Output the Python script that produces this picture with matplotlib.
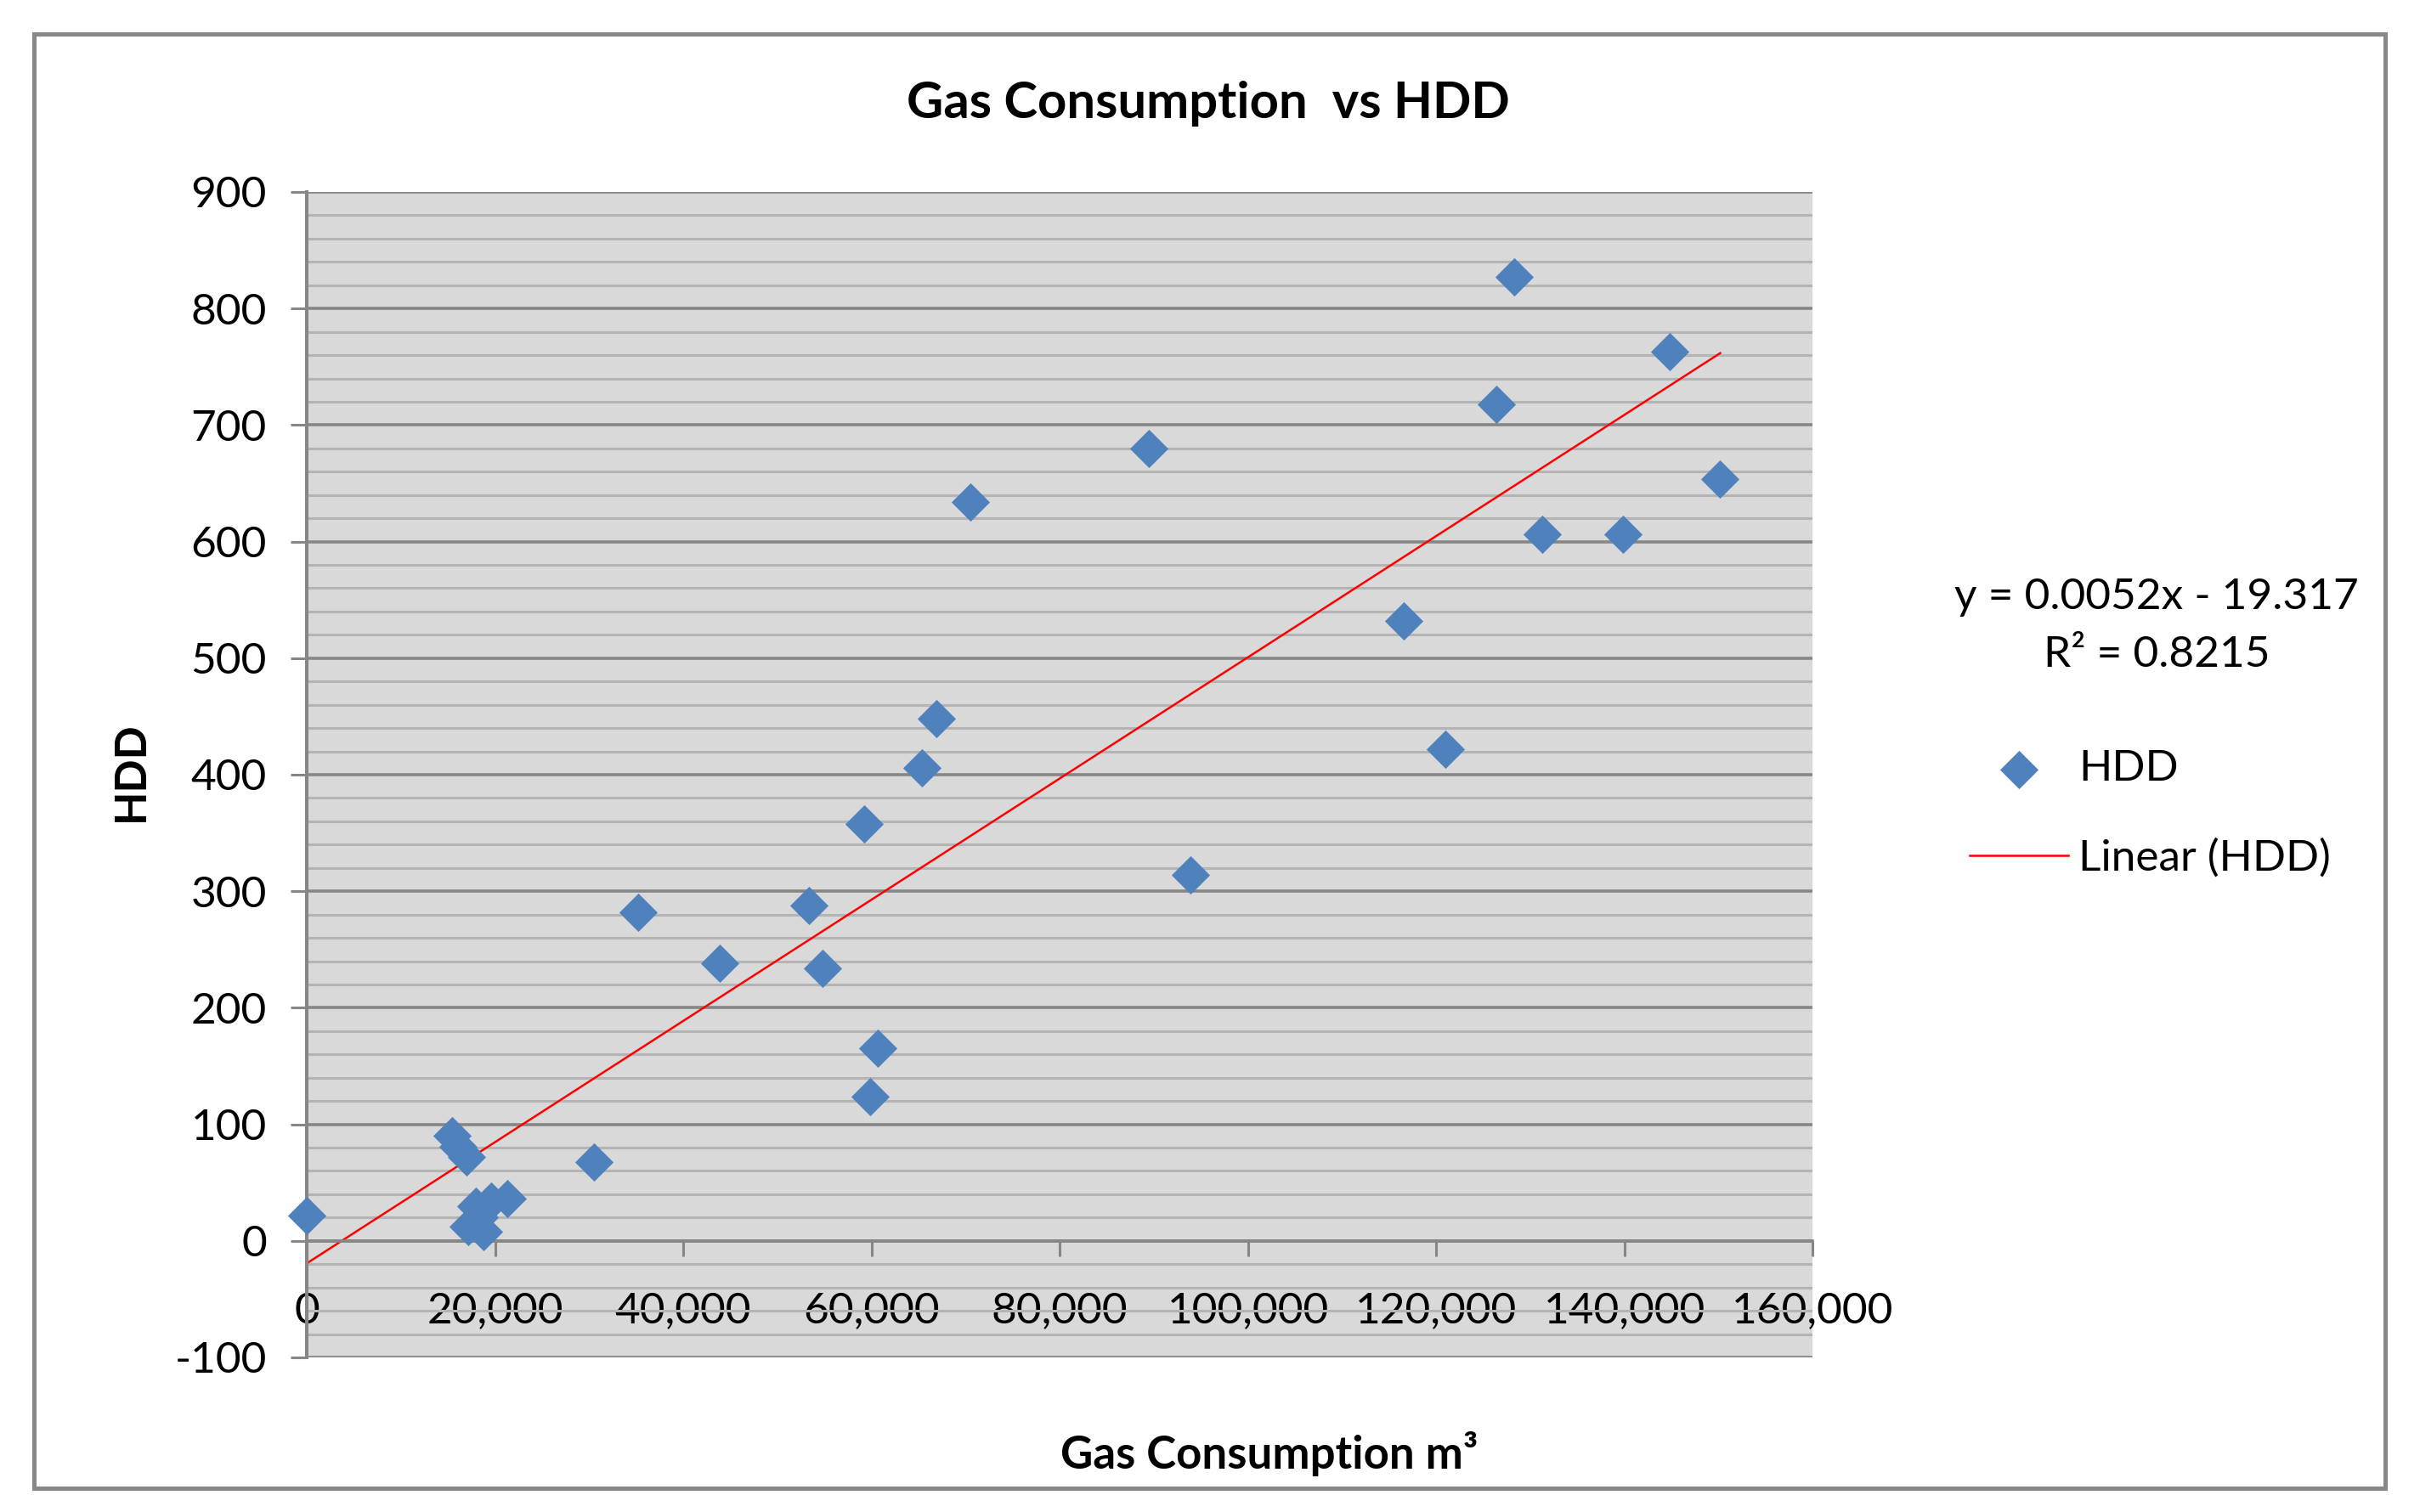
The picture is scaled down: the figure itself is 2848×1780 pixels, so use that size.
import numpy as np
import matplotlib
matplotlib.use("Agg")
from matplotlib import pyplot as plt
from matplotlib.patches import Rectangle
from matplotlib.ticker import MultipleLocator, FuncFormatter

# values
gas = [0, 15400, 16100, 17000, 17200, 18000, 18300, 18800, 19600, 21300,
       30500, 35200, 43900, 53400, 54800, 59200, 59900, 60700, 65400, 66900,
       70500, 89500, 93900, 116600, 121000, 126400, 128300, 131300, 139900,
       144800, 150200]
hdd = [22, 90, 81, 72, 12, 30, 20, 8, 34, 36,
       68, 282, 238, 288, 234, 358, 124, 165, 406, 448,
       634, 680, 314, 532, 422, 718, 827, 606, 606,
       763, 654]
slope = 0.0052
intercept = -19.317
r2 = 0.8215

title = "Gas Consumption  vs HDD"
x_label = "Gas Consumption m³"
y_label = "HDD"

W, H = 2848, 1780
blue = "#4F81BD"
major_c = "#868686"
minor_c = "#b4b4b4"
fs = 37

plt.rcParams['font.family'] = ["Lato", "DejaVu Sans"]
plt.rcParams['axes.unicode_minus'] = False

fig = plt.figure(figsize=(W / 100, H / 100), dpi=100)
fig.add_artist(Rectangle((40 / W, 1 - 1752 / H), (2807 - 40) / W, (1752 - 40) / H,
                         transform=fig.transFigure, fill=False,
                         edgecolor="#888888", linewidth=3.6))

ax = fig.add_axes([361 / W, 1 - 1598 / H, (2133 - 361) / W, (1598 - 226) / H])
ax.set_facecolor("#d9d9d9")
ax.set_xlim(0, 160000)
ax.set_ylim(-100, 900)

ax.yaxis.set_major_locator(MultipleLocator(100))
ax.yaxis.set_minor_locator(MultipleLocator(20))
ax.xaxis.set_major_locator(MultipleLocator(20000))
ax.grid(True, axis='y', which='major', color=major_c, linewidth=2.6)
ax.grid(True, axis='y', which='minor', color=minor_c, linewidth=2.2)
ax.set_axisbelow(True)

for s in ['top', 'right']:
    ax.spines[s].set_visible(False)
ax.spines['bottom'].set_position(('data', 0))
ax.spines['bottom'].set_color(major_c)
ax.spines['bottom'].set_linewidth(2.6)
ax.spines['left'].set_color(major_c)
ax.spines['left'].set_linewidth(2.9)

ax.xaxis.set_major_formatter(FuncFormatter(lambda v, p: f"{int(v):,}"))
ax.tick_params(axis='x', which='major', direction='out', length=13, width=2.2,
               color=major_c, labelsize=fs, pad=30)
ax.tick_params(axis='y', which='major', direction='out', length=14, width=2.2,
               color=major_c, labelsize=fs, pad=20)
ax.tick_params(axis='y', which='minor', length=0)

xs = np.array([min(gas), max(gas)])
ax.plot(xs, slope * xs + intercept, color="#ff0000", linewidth=1.8, zorder=2,
        label="Linear (HDD)")
ax.scatter(gas, hdd, marker='D', s=23 ** 2, color=blue, linewidths=0, zorder=3,
           label="HDD", clip_on=False)

fig.text(1422 / W, 1 - 122 / H, title, ha='center', va='center', fontsize=43,
         fontweight='bold')
fig.text(1494 / W, 1 - 1712 / H, x_label, ha='center', va='center', fontsize=38,
         fontweight='bold')
fig.text(154 / W, 1 - 908 / H, y_label, ha='center', va='center', fontsize=fs,
         fontweight='bold', rotation=90)

fig.text(2538 / W, 1 - 737 / H, f"y = {slope}x - {abs(intercept)}\nR² = {r2}",
         ha='center', va='center', fontsize=fs, linespacing=1.6)

handles, labels = ax.get_legend_handles_labels()
leg = fig.legend(handles[::-1], labels[::-1], loc='upper left',
                 bbox_to_anchor=(2318 / W, 1 - 882 / H), frameon=False,
                 fontsize=fs, handlelength=2.25, handletextpad=0.25,
                 labelspacing=1.15, borderpad=0, borderaxespad=0)

fig.savefig("out.png", dpi=100)
